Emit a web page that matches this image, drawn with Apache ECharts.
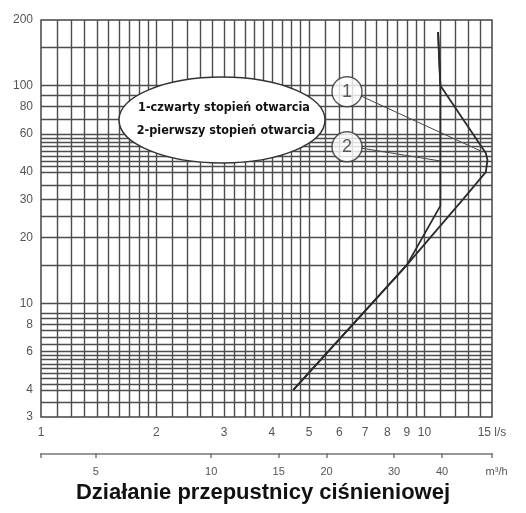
<!DOCTYPE html>
<html>
<head>
<meta charset="utf-8">
<script src="https://cdn.jsdelivr.net/npm/echarts@6/dist/echarts.min.js"></script>
<style>
  html, body { margin: 0; padding: 0; background: #fff; }
  #main { width: 526px; height: 513px; }
</style>
</head>
<body>
<div id="main"></div>
<script>
// przepływ l/s -> ciśnienie (log-log)
var xTicks = [1, 2, 3, 4, 5, 6, 7, 8, 9, 10, 15];
var yTicks = [3, 4, 6, 8, 10, 20, 30, 40, 60, 80, 100, 200];
var m3hTicks = [5, 10, 15, 20, 30, 40];
var gridX = [1.1, 1.2, 1.3, 1.4, 1.5, 1.6, 1.7, 1.8, 1.9, 2, 2.2, 2.4, 2.6, 2.8, 3, 3.2, 3.4, 3.6, 3.8, 4, 4.25, 4.5, 4.75, 5,
             5.5, 6, 6.5, 7, 7.5, 8, 8.5, 9, 9.5, 10, 11, 12, 13, 14];
var gridY = [3.5, 4, 4.25, 4.5, 4.75, 5, 5.25, 5.5, 5.75, 6, 6.5, 7, 7.5, 8, 8.5, 9, 10, 15, 20, 25, 30, 35,
             40, 42.5, 45, 47.5, 50, 52.5, 55, 57.5, 60, 70, 80, 90, 100, 150];
var curve1X = [10.85, 11.0, 14.45, 14.6, 14.45, 12.6, 9.0, 4.55];
var curve1Y = [176, 100, 49, 45.5, 40, 30, 15, 4.0];
var curve2X = [10.85, 11.0, 11.0, 9.0, 4.55];
var curve2Y = [176, 100, 28, 15, 4.0];
var legendLines = ['1-czwarty stopień otwarcia', '2-pierwszy stopień otwarcia'];
var markers = [['1', 6.28, 93.7], ['2', 6.28, 52.3]];
var leader1 = [[6.83, 89.5], [14.2, 49.5]];
var leader2 = [[6.83, 51.6], [11.0, 45]];

function zip(xs, ys) {
    return xs.map(function (x, i) { return [x, ys[i]]; });
}

var myChart = echarts.init(document.getElementById('main'));
var lbl = { color: '#555', fontSize: 12, fontFamily: 'Liberation Sans, Arial, sans-serif' };
var legendFont = 'bold 12.5px "DejaVu Sans Condensed", "Liberation Sans Narrow", sans-serif';

var option = {
    animation: false,
    title: {
        text: 'Działanie przepustnicy ciśnieniowej',
        left: 'center',
        top: 477,
        textStyle: { fontSize: 22, fontWeight: 'bold', color: '#111', fontFamily: 'Liberation Sans, Arial, sans-serif' }
    },
    grid: [
        { left: 41, right: 34, top: 20, bottom: 96, show: true, borderColor: '#444', borderWidth: 1.5 },
        { left: 41, right: 34, top: 453, height: 1 }
    ],
    xAxis: [
        {
            type: 'log', min: 1, max: 15, gridIndex: 0,
            axisLine: { show: false }, axisTick: { show: false }, splitLine: { show: false },
            axisLabel: Object.assign({
                customValues: xTicks, margin: 10,
                formatter: function (v) { return v === 15 ? '15 l/s' : v; }
            }, lbl)
        },
        {
            type: 'log', min: 3.6, max: 54, gridIndex: 1,
            axisLine: { lineStyle: { color: '#777', width: 1.5 } },
            axisTick: { length: 4, customValues: [3.6].concat(m3hTicks, [54]), lineStyle: { color: '#777', width: 1.5 } },
            splitLine: { show: false },
            axisLabel: Object.assign({
                customValues: m3hTicks.concat([54]), margin: 12, fontSize: 11,
                formatter: function (v) { return v === 54 ? '   m³/h' : v; }
            }, { color: '#555', fontFamily: 'Liberation Sans, Arial, sans-serif' })
        },
        {
            type: 'log', min: 3.6, max: 54, gridIndex: 1,
            axisLine: { show: false },
            axisTick: { inside: true, length: 4, customValues: [3.6].concat(m3hTicks, [54]), lineStyle: { color: '#777', width: 1.5 } },
            splitLine: { show: false }, axisLabel: { show: false }
        }
    ],
    yAxis: [
        {
            type: 'log', min: 3, max: 200, gridIndex: 0,
            axisLine: { show: false }, axisTick: { show: false }, splitLine: { show: false },
            axisLabel: Object.assign({ customValues: yTicks, margin: 8 }, lbl)
        },
        { type: 'value', gridIndex: 1, show: false }
    ],
    series: [
        {
            name: 'siatka', type: 'line', data: [], xAxisIndex: 0, yAxisIndex: 0, silent: true,
            markLine: {
                silent: true, symbol: 'none', label: { show: false },
                lineStyle: { color: '#4d4d4d', width: 1.4, type: 'solid' },
                data: gridX.map(function (v) { return { xAxis: v }; })
                    .concat(gridY.map(function (v) { return { yAxis: v }; }))
            }
        },
        {
            name: '1', type: 'line', data: zip(curve1X, curve1Y), showSymbol: false,
            lineStyle: { color: '#2b2b2b', width: 1.8 }, z: 5
        },
        {
            name: '2', type: 'line', data: zip(curve2X, curve2Y), showSymbol: false,
            lineStyle: { color: '#2b2b2b', width: 1.8 }, z: 5
        },
        {
            name: 'l1', type: 'line', data: leader1, showSymbol: false,
            lineStyle: { color: '#444', width: 1 }, z: 4
        },
        {
            name: 'l2', type: 'line', data: leader2, showSymbol: false,
            lineStyle: { color: '#444', width: 1 }, z: 4
        },
        {
            name: 'znaczniki', type: 'scatter', symbolSize: 30, z: 6,
            data: markers.map(function (m) { return { value: [m[1], m[2]], name: m[0] }; }),
            itemStyle: { color: '#fff', borderColor: '#333', borderWidth: 1.5 },
            label: {
                show: true, position: 'inside', formatter: '{b}',
                color: '#333', fontSize: 18, fontFamily: 'Liberation Sans, Arial, sans-serif'
            }
        }
    ],
    graphic: [
        {
            type: 'ellipse', z: 10,
            shape: { cx: 222, cy: 120, rx: 103, ry: 43 },
            style: { fill: '#fff', stroke: '#333', lineWidth: 1.5 }
        },
        {
            type: 'text', z: 11,
            style: {
                text: legendLines[0], x: 224, y: 108, align: 'center', verticalAlign: 'middle',
                font: legendFont, fill: '#111'
            }
        },
        {
            type: 'text', z: 11,
            style: {
                text: legendLines[1], x: 226, y: 131, align: 'center', verticalAlign: 'middle',
                font: legendFont, fill: '#111'
            }
        }
    ]
};
myChart.setOption(option);
window.addEventListener('resize', function () {
    myChart.resize();
});
</script>
</body>
</html>
